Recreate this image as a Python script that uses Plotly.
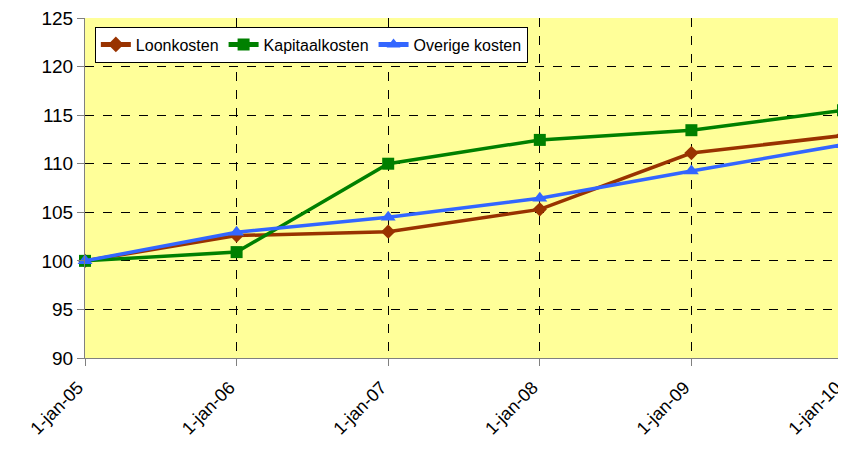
import plotly.graph_objects as go

categories = ["1-jan-05", "1-jan-06", "1-jan-07", "1-jan-08", "1-jan-09", "1-jan-10"]
loonkosten = [100, 102.6, 103.0, 105.3, 111.1, 112.9]
kapitaalkosten = [100, 100.9, 110.0, 112.45, 113.45, 115.5]
overige_kosten = [100, 102.95, 104.5, 106.45, 109.25, 111.95]

fig = go.Figure()
series = [
    ("Loonkosten", loonkosten, "#993300", "diamond", 11),
    ("Kapitaalkosten", kapitaalkosten, "#008000", "square", 12),
    ("Overige kosten", overige_kosten, "#3366FF", "triangle-up", 13),
]
for name, vals, color, sym, size in series:
    fig.add_trace(go.Scatter(
        x=categories, y=vals, name=name, mode="lines+markers",
        line=dict(color=color, width=3.5),
        marker=dict(symbol=sym, size=size, color=color),
        cliponaxis=False,
    ))

# page body has an 8px margin, so the figure is sized/offset to compensate
fig.update_layout(
    width=838, height=447,
    margin=dict(l=77, r=3, t=10, b=97, autoexpand=False),
    paper_bgcolor="white",
    plot_bgcolor="#FFFF99",
    font=dict(family="Liberation Sans, Arial", color="black"),
    legend=dict(
        orientation="h", x=0.013, y=0.975, xanchor="left", yanchor="top",
        bgcolor="white", bordercolor="black", borderwidth=1,
        font=dict(size=16), itemwidth=30, tracegroupgap=0,
        itemsizing="constant",
    ),
    xaxis=dict(
        type="category", range=[0, 5], automargin=False,
        showgrid=True, gridcolor="black", griddash="dash", gridwidth=1,
        showline=True, linecolor="#808080", linewidth=1,
        ticks="outside", ticklen=7, tickcolor="#808080",
        tickangle=-45, tickfont=dict(size=18),
        ticklabeloverflow="allow", ticklabelshift=-7, ticklabelstandoff=4,
        zeroline=False,
    ),
    yaxis=dict(
        range=[90, 125], dtick=5, automargin=False,
        showgrid=True, gridcolor="black", griddash="dash", gridwidth=1,
        showline=True, linecolor="#808080", linewidth=1,
        ticks="outside", ticklen=7, tickcolor="#808080",
        tickfont=dict(size=19), ticklabeloverflow="allow",
        zeroline=False,
    ),
)

fig.write_html("out.html")
